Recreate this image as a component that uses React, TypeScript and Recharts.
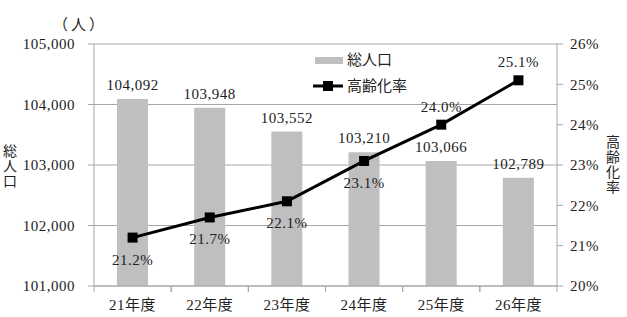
import { ComposedChart, Bar, Line, XAxis, YAxis, CartesianGrid, LabelList } from 'recharts';

const years = ['21年度', '22年度', '23年度', '24年度', '25年度', '26年度'];
const population = [104092, 103948, 103552, 103210, 103066, 102789];
const agingRate = [21.2, 21.7, 22.1, 23.1, 24.0, 25.1];
const popTicks = [101000, 102000, 103000, 104000, 105000];
const rateTicks = [20, 21, 22, 23, 24, 25, 26];

const data = years.map((year, i) => ({ year, population: population[i], rate: agingRate[i] }));

const FONT = "'Liberation Serif', 'Noto Sans CJK JP', serif";
const GRID = '#a6a6a6';
const TEXT = '#222';
const W = 627;
const H = 317;
const LEFT_W = 94;
const RIGHT_W = 70;
const BAND = (W - LEFT_W - RIGHT_W) / years.length;

const tickStyle = { fontSize: 15, fontFamily: FONT, fill: TEXT, letterSpacing: 0.5 };

const SquareDot = (props: any) => {
    const { cx, cy } = props;
    if (cx == null || cy == null) return null;
    return <rect x={cx - 5} y={cy - 5} width={10} height={10} fill="#000" />;
};

const XTick = (props: any) => {
    const { x, y, payload } = props;
    return (
        <g>
            <line x1={x - BAND / 2} y1={y - 8} x2={x - BAND / 2} y2={y - 2} stroke={GRID} />
            <line x1={x + BAND / 2} y1={y - 8} x2={x + BAND / 2} y2={y - 2} stroke={GRID} />
            <text x={x} y={y + 16} textAnchor="middle" {...tickStyle}>
                {payload.value}
            </text>
        </g>
    );
};

const RateLabel = (props: any) => {
    const { x, y, value, index } = props;
    const above = index >= 4;
    return (
        <text x={x} y={above ? y - 13 : y + 27} textAnchor="middle" {...tickStyle}>
            {`${Number(value).toFixed(1)}%`}
        </text>
    );
};

const VerticalLabel = ({ chars, x, y }: { chars: string; x: number; y: number }) => (
    <text x={x} y={y} textAnchor="middle" fontSize={14} fontFamily={FONT} fill={TEXT}>
        {chars.split('').map((c, i) => (
            <tspan key={i} x={x} dy={i === 0 ? 0 : 15}>{c}</tspan>
        ))}
    </text>
);

const LegendBox = () => (
    <div style={{ position: 'absolute', left: 313, top: 47, fontFamily: FONT, fontSize: 15, color: TEXT, lineHeight: '26px' }}>
        <div style={{ display: 'flex', alignItems: 'center' }}>
            <span style={{ display: 'inline-block', width: 28, height: 7, background: '#bfbfbf', marginLeft: 2, marginRight: 4 }} />
            総人口
        </div>
        <div style={{ display: 'flex', alignItems: 'center' }}>
            <svg width={30} height={10} style={{ marginRight: 4 }}>
                <line x1={0} y1={5} x2={30} y2={5} stroke="#000" strokeWidth={3} />
                <rect x={10} y={0} width={10} height={10} fill="#000" />
            </svg>
            高齢化率
        </div>
    </div>
);

export default function App() {
    return (
        <div style={{ position: 'absolute', left: 0, top: 0, width: W, height: H, background: '#fff' }}>
            <ComposedChart width={W} height={H} data={data} margin={{ top: 44, right: 0, bottom: 0, left: 0 }}>
                <CartesianGrid yAxisId="left" vertical={false} stroke={GRID} />
                <XAxis
                    dataKey="year"
                    height={31}
                    tickLine={false}
                    stroke={GRID}
                    tick={<XTick />}
                    interval={0}
                />
                <YAxis
                    yAxisId="left"
                    width={LEFT_W}
                    domain={[101000, 105000]}
                    ticks={popTicks}
                    stroke={GRID}
                    tickSize={6}
                    tickMargin={13}
                    tick={tickStyle}
                    tickFormatter={(v: number) => v.toLocaleString('en-US')}
                />
                <YAxis
                    yAxisId="right"
                    orientation="right"
                    width={RIGHT_W}
                    domain={[20, 26]}
                    ticks={rateTicks}
                    stroke={GRID}
                    tickSize={6}
                    tickMargin={7}
                    tick={tickStyle}
                    tickFormatter={(v: number) => `${v}%`}
                />
                <Bar yAxisId="left" dataKey="population" name="総人口" fill="#bfbfbf" barSize={31} isAnimationActive={false}>
                    <LabelList
                        dataKey="population"
                        position="top"
                        offset={9}
                        formatter={(v: any) => Number(v).toLocaleString('en-US')}
                        style={tickStyle}
                    />
                </Bar>
                <Line
                    yAxisId="right"
                    dataKey="rate"
                    name="高齢化率"
                    stroke="#000"
                    strokeWidth={3}
                    dot={<SquareDot />}
                    activeDot={false}
                    isAnimationActive={false}
                >
                    <LabelList dataKey="rate" content={<RateLabel />} />
                </Line>
                <text x={80} y={30} textAnchor="middle" fontSize={15} fontFamily={FONT} fill={TEXT} letterSpacing={3}>（人）</text>
                <VerticalLabel chars="総人口" x={10} y={156} />
                <VerticalLabel chars="高齢化率" x={613} y={147} />
            </ComposedChart>
            <LegendBox />
        </div>
    );
}
